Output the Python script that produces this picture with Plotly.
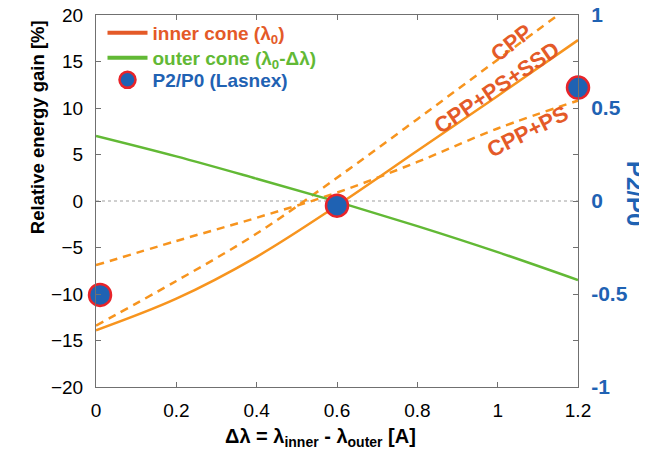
import plotly.graph_objects as go

# ---- data ----
dl = [0, 0.2, 0.4, 0.6, 0.8, 1.0, 1.2]
inner_cone = [-13.9, -10.5, -6.0, -0.5, 5.4, 11.3, 17.3]          # CPP+PS+SSD (solid)
outer_cone = [7.0, 4.8, 2.4, -0.07, -2.7, -5.5, -8.5]
cpp = [-13.4, -8.6, -3.5, 2.5, 8.8, 15.2, 21.6]                  # dashed
cpp_ps = [-6.9, -4.3, -1.8, 0.9, 4.2, 7.8, 10.8]                 # dashed
lasnex_x = [0.01, 0.6, 1.2]
lasnex_p2p0 = [-0.505, -0.025, 0.61]

y_ticks = [-20, -15, -10, -5, 0, 5, 10, 15, 20]
y2_tickvals = [-1, -0.5, 0, 0.5, 1]
y2_ticktext = ["-1", "-0.5", "0", "0.5", "1"]

ORANGE = "#f7941e"
ORANGE_RED = "#e45a28"
GREEN = "#62b935"
BLUE = "#1f62b3"
RED = "#e8242a"
AXC = "#707070"
FONT = "Liberation Sans, Arial, sans-serif"

fig = go.Figure()

# zero reference line (dotted)
fig.add_shape(type="line", xref="x", yref="y", x0=0, x1=1.2, y0=0, y1=0,
              line=dict(color="#c0c0c0", width=1.5, dash="dot"), layer="below")

fig.add_trace(go.Scatter(x=dl, y=cpp, mode="lines", line=dict(color=ORANGE, width=2.5, dash="8px,6px", shape="spline"), showlegend=False))
fig.add_trace(go.Scatter(x=dl, y=cpp_ps, mode="lines", line=dict(color=ORANGE, width=2.5, dash="8px,6px", shape="spline"), showlegend=False))
fig.add_trace(go.Scatter(x=dl, y=inner_cone, mode="lines", line=dict(color=ORANGE, width=2.5, shape="spline"), showlegend=False))
fig.add_trace(go.Scatter(x=dl, y=outer_cone, mode="lines", line=dict(color=GREEN, width=2.5, shape="spline"), showlegend=False))
fig.add_trace(go.Scatter(x=lasnex_x, y=lasnex_p2p0, yaxis="y2", mode="markers", cliponaxis=False,
                         marker=dict(size=22, color=BLUE, line=dict(color=RED, width=2.5)), showlegend=False))

# legend entries (one legend per row so the rows sit where the reference has them)
fig.add_trace(go.Scatter(x=[None], y=[None], mode="lines", line=dict(color=ORANGE_RED, width=4), legend="legend",
                         name="<span style='color:%s'><b>inner cone (λ<sub>0</sub>)</b></span>" % ORANGE_RED))
fig.add_trace(go.Scatter(x=[None], y=[None], mode="lines", line=dict(color=GREEN, width=4), legend="legend2",
                         name="<span style='color:%s'><b>outer cone (λ<sub>0</sub>-Δλ)</b></span>" % GREEN))
fig.add_trace(go.Scatter(x=[None], y=[None], mode="markers", legend="legend3",
                         marker=dict(size=20, color=BLUE, line=dict(color=RED, width=2.5)),
                         name="<span style='color:%s'><b>P2/P0 (Lasnex)</b></span>" % BLUE))

annotations = [
    dict(text="<b>CPP</b>", x=1.035, y=17.0, xref="x", yref="y", textangle=-38, showarrow=False,
         font=dict(size=22, color=ORANGE_RED, family=FONT)),
    dict(text="<b>CPP+PS+SSD</b>", x=0.998, y=12.2, xref="x", yref="y", textangle=-34, showarrow=False,
         font=dict(size=22, color=ORANGE_RED, family=FONT)),
    dict(text="<b>CPP+PS</b>", x=1.075, y=7.45, xref="x", yref="y", textangle=-27, showarrow=False,
         font=dict(size=22, color=ORANGE_RED, family=FONT)),
    dict(text="<b>Relative energy gain [%]</b>", x=-0.12, y=0.699, xref="paper", yref="paper", textangle=-90,
         showarrow=False, xanchor="center", yanchor="middle", font=dict(size=18.5, color="black", family=FONT)),
    dict(text="<b>Δλ = λ<sub>inner</sub> - λ<sub>outer</sub> [A]</b>", x=0.465, y=-0.137, xref="paper", yref="paper",
         showarrow=False, xanchor="center", yanchor="middle", font=dict(size=20, color="black", family=FONT)),
    dict(text="<b>P2/P0</b>", x=1.118, y=0.519, xref="paper", yref="paper", textangle=90,
         showarrow=False, xanchor="center", yanchor="middle", font=dict(size=24, color=BLUE, family=FONT)),
]

leg_common = dict(xanchor="left", yanchor="middle", bgcolor="rgba(0,0,0,0)",
                  font=dict(size=19, family=FONT), itemwidth=40)

fig.update_layout(
    # page body has an 8px default margin, so the figure is 8px smaller than the window
    width=639, height=447,
    margin=dict(l=88, r=69, t=7, b=68, autoexpand=False),
    paper_bgcolor="white", plot_bgcolor="white",
    font=dict(family=FONT, size=19, color="black"),
    showlegend=True,
    legend=dict(x=0.0135, y=0.9516, **leg_common),
    legend2=dict(x=0.0135, y=0.8844, **leg_common),
    legend3=dict(x=0.0135, y=0.8253, **leg_common),
    annotations=annotations,
    xaxis=dict(range=[0, 1.2], dtick=0.2, tick0=0, showgrid=False, zeroline=False, automargin=False,
               showline=True, linecolor=AXC, linewidth=1, mirror="ticks",
               ticks="inside", ticklen=5, tickcolor=AXC, ticklabelstandoff=6, ticklabeloverflow="allow",
               tickfont=dict(size=19, color="black", family=FONT)),
    yaxis=dict(range=[-20, 20], tickvals=y_ticks, showgrid=False, zeroline=False, automargin=False,
               showline=True, linecolor=AXC, linewidth=1,
               ticks="inside", ticklen=5, tickcolor=AXC, ticklabelstandoff=8, ticklabeloverflow="allow",
               tickfont=dict(size=19, color="black", family=FONT)),
    yaxis2=dict(range=[-1, 1], overlaying="y", side="right", tickvals=y2_tickvals, ticktext=y2_ticktext,
                showgrid=False, zeroline=False, showline=True, linecolor=AXC, linewidth=1, automargin=False,
                ticks="inside", ticklen=5, tickcolor=AXC, ticklabelstandoff=8, ticklabeloverflow="allow",
                minor=dict(dtick=0.25, ticks="inside", ticklen=5, tickcolor=AXC, showgrid=False),
                tickfont=dict(size=21, color=BLUE, family=FONT, weight="bold")),
)

fig.write_html("out.html")
